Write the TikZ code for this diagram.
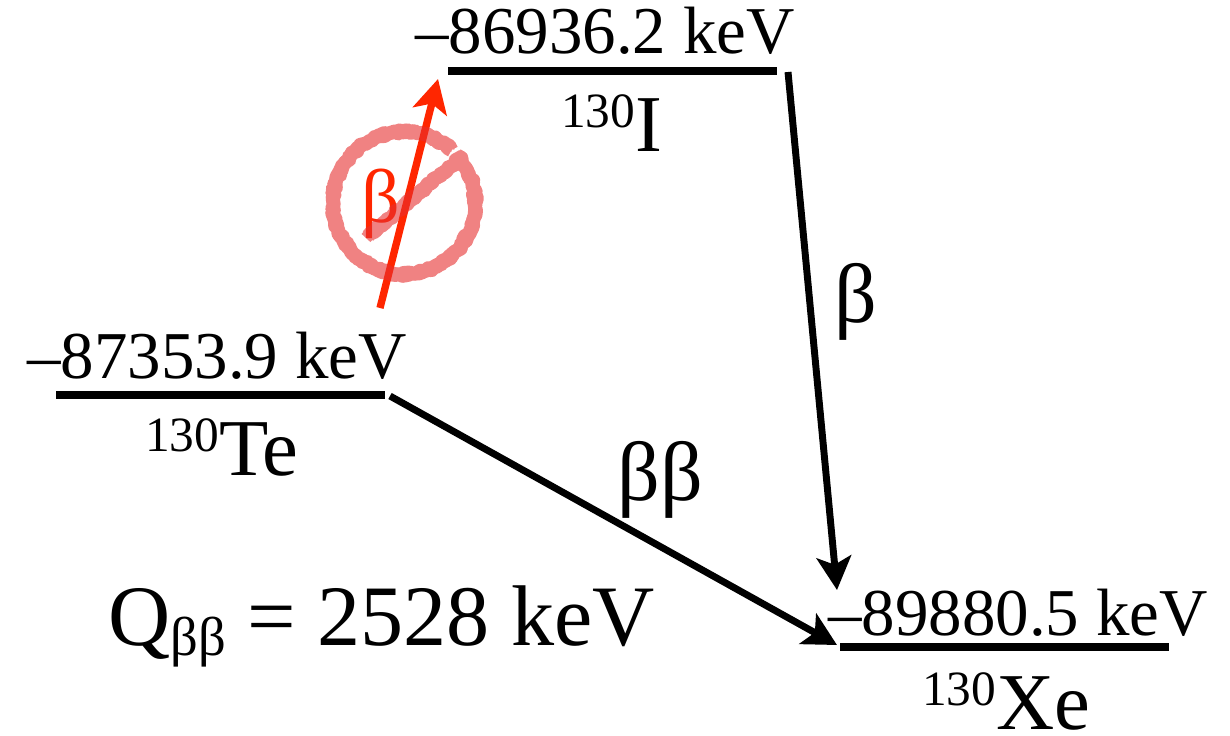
\documentclass[tikz,border=0pt]{standalone}
\usepackage{fontspec}
\setmainfont{Liberation Serif}
\usetikzlibrary{arrows.meta,decorations.pathmorphing}
\definecolor{arrowred}{RGB}{255,38,0}
\definecolor{ringred}{RGB}{230,47,47}
\newcommand{\fs}[1]{\fontsize{#1}{#1}\selectfont}
\tikzset{
  px/.style={x=0.75pt,y=-0.75pt},
  level/.style={line width=5.8pt,black},
  decay/.style={line width=5.2pt,black,-{Stealth[length=25pt,width=26pt,inset=6pt]}},
  veto/.style={line width=5.5pt,arrowred,-{Stealth[length=25pt,width=26pt,inset=6pt]}},
  energy/.style={anchor=base west,inner sep=0pt,font=\fs{50.2}},
  nuclide/.style={anchor=base west,inner sep=0pt,font=\fs{60.5}},
  greek/.style={anchor=base west,inner sep=0pt,font=\fs{63}},
  qval/.style={anchor=base west,inner sep=0pt,font=\fs{64.6}},
  ring/.style={line width=#1,ringred,line join=round,decorate,decoration={random steps,segment length=2.2pt,amplitude=1.3pt}},
}
\newcommand{\sm}[1]{{\fs{37}\raisebox{17.5pt}{#1}}}
\begin{document}
\begin{tikzpicture}[px]
\useasboundingbox (0,0) rectangle (1230,735);
\pgfmathsetseed{4217}
% levels
\coordinate (iL) at (448,71); \coordinate (iR) at (777,71);
\coordinate (teL) at (56,395); \coordinate (teR) at (385,395);
\coordinate (xeL) at (840,647); \coordinate (xeR) at (1169,647);
\draw[level] (iL) -- (iR);
\draw[level] (teL) -- (teR);
\draw[level] (xeL) -- (xeR);
% level texts
\node[energy] (eI) at (415,54) {–86936.2 keV};
\node[energy] (eTe) at (27,378) {–87353.9 keV};
\node[energy] (eXe) at (828,635) {–89880.5 keV};
\node[nuclide] (nI) at (561,151) {\sm{130}I};
\node[nuclide] (nTe) at (145,475) {\sm{130}Te};
\node[nuclide] (nXe) at (922,729) {\sm{130}Xe};
% decays
\coordinate (dIs) at (788,72); \coordinate (dIe) at (837,590);
\coordinate (dTs) at (390,396); \coordinate (dTe) at (837,645);
\coordinate (vs) at (380,308); \coordinate (ve) at (438,79);
\draw[decay] (dIs) -- (dIe);
\draw[decay] (dTs) -- (dTe);
\draw[veto] (vs) -- (ve);
\node[greek] (bR) at (834,322) {β};
\node[greek] (bb) at (617,500) {ββ};
\node[inner sep=0pt,anchor=base west,font=\fs{57},arrowred] (bV) at (361,222) {β};
\node[qval] (Q) at (108,645) {Q\raisebox{-8pt}{\fs{41}ββ} = 2528 keV};
% crossed-out ring
\begin{scope}[transparency group,opacity=0.6]
  \draw[ring=10.5pt] (451.5,150.2) arc[start angle=-48,end angle=-402,radius=71];
  \draw[ring=9pt] (452.2,149.5) arc[start angle=-48,end angle=-402,radius=72];
  \draw[ring=10.5pt] (368,236) -- (463,156);
  \draw[ring=9pt] (366,238) -- (462,158);
\end{scope}
\end{tikzpicture}
\end{document}
